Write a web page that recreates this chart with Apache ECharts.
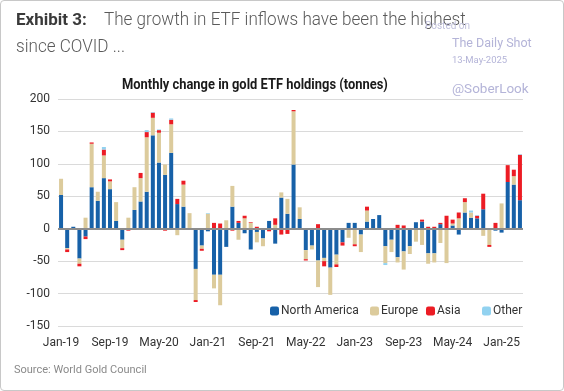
<!DOCTYPE html>
<html><head><meta charset="utf-8">
<script src="https://cdn.jsdelivr.net/npm/echarts@6/dist/echarts.min.js"></script>
<style>
html,body{margin:0;padding:0;background:#fff;}
#wrap{position:absolute;left:0;top:0;width:562px;height:389px;border:1px solid #c8c8c8;border-radius:4px;overflow:hidden;}
#c{width:564px;height:391px;position:absolute;left:-1px;top:-1px;}
</style></head>
<body><div id="wrap"><div id="c"></div></div>
<script>
const categories = [
 'Jan-19','Feb-19','Mar-19','Apr-19','May-19','Jun-19','Jul-19','Aug-19','Sep-19','Oct-19','Nov-19','Dec-19',
 'Jan-20','Feb-20','Mar-20','Apr-20','May-20','Jun-20','Jul-20','Aug-20','Sep-20','Oct-20','Nov-20','Dec-20',
 'Jan-21','Feb-21','Mar-21','Apr-21','May-21','Jun-21','Jul-21','Aug-21','Sep-21','Oct-21','Nov-21','Dec-21',
 'Jan-22','Feb-22','Mar-22','Apr-22','May-22','Jun-22','Jul-22','Aug-22','Sep-22','Oct-22','Nov-22','Dec-22',
 'Jan-23','Feb-23','Mar-23','Apr-23','May-23','Jun-23','Jul-23','Aug-23','Sep-23','Oct-23','Nov-23','Dec-23',
 'Jan-24','Feb-24','Mar-24','Apr-24','May-24','Jun-24','Jul-24','Aug-24','Sep-24','Oct-24','Nov-24','Dec-24',
 'Jan-25','Feb-25','Mar-25','Apr-25'];
const northAmerica = [
 52,-30,3,-46,-12,64,43,78,61,12,-17,0,
 29,42,57,144,102,83,117,38,34,-1,-62,-26,
 -4,-71,-71,-28,34,9,-7,-32,-5,-15,12,-23,
 48,23,99,15,-33,-26,-49,-45,-60,-40,-21,9,
 9,-9,11,15,21,-27,-17,-44,-35,-27,10,11,
 -38,-38,7,0,5,-9,25,17,16,30,0,-3,
 -6,72,68,44];
const europe = [
 25,-2,0,-8,17,67,14,35,12,29,-13,17,
 35,36,84,27,46,16,44,-10,34,24,-48,-5,
 23,-21,-47,13,32,-17,16,9,-16,-12,0,6,
 8,23,82,18,-14,-6,-41,-5,-42,-15,0,-14,
 -24,-27,17,0,0,-26,-19,-8,-28,-12,-20,-25,
 -16,-14,-22,-53,3,16,16,8,0,-11,-25,0,
 39,0,13,0];
const asia = [
 0,-4,-2,-4,-4,2,0,9,3,0,-3,-3,
 0,8,8,8,4,-3,7,8,6,0,-3,-3,
 0,9,8,0,-3,3,4,1,3,0,-4,10,
 -9,-8,2,0,-2,0,7,-8,0,-4,-5,0,
 -3,0,6,0,0,0,0,6,5,0,0,3,
 3,3,2,20,6,9,6,0,4,24,-3,9,
 0,26,10,70];
const other = [
 0,0,0,0,0,0,0,4,0,0,1,0,
 0,0,3,1,1,0,2,0,0,0,0,0,
 1,0,0,0,0,0,0,0,0,0,0,0,
 0,0,0,0,0,0,0,0,0,0,0,0,
 0,0,0,0,0,-3,0,0,0,0,0,0,
 0,0,0,0,0,0,0,3,1,0,0,0,
 0,0,0,1];
const seriesNames = ['North America','Europe','Asia','Other'];
const yTicks = {min:-150, max:200, step:50};

const FONT = "Roboto, sans-serif";
const chart = echarts.init(document.getElementById('c'), null, {renderer:'canvas'});
function bar(name, data, color){
  return {name, type:'bar', stack:'total', data, barWidth:4,
    itemStyle:{color}, emphasis:{disabled:true}};
}
const series = [
  bar(seriesNames[0], northAmerica, '#1761a8'),
  bar(seriesNames[1], europe, '#dccb9c'),
  bar(seriesNames[2], asia, '#ec1c24'),
  bar(seriesNames[3], other, '#92d2f0')
];
series[0].markLine = {silent:true, symbol:'none', label:{show:false},
  lineStyle:{color:'#8c8c8c', width:2, type:'solid'}, data:[{yAxis:0}], animation:false};
const legendLefts = [265, 365, 421, 477];
const legends = seriesNames.map((n,i)=>({left:legendLefts[i], top:300, itemWidth:9, itemHeight:9,
    textStyle:{fontSize:12, color:'#333', fontFamily:FONT, padding:[0,0,0,-3]}, data:[n]}));
chart.setOption({
  animation:false,
  grid:{left:58, right:41, top:99, bottom:65},
  graphic:[
    {type:'text', left:16, top:12, style:{text:'Exhibit 3:', font:"bold 17px "+FONT, fill:'#3a3a3a'}},
    {type:'text', x:104, y:11, scaleX:0.95, style:{text:'The growth in ETF inflows have been the highest', font:"300 18px "+FONT, fill:'#5a5a5a'}},
    {type:'text', x:16, y:38, scaleX:0.95, style:{text:'since COVID ...', font:"300 18px "+FONT, fill:'#5a5a5a'}},
    {type:'text', left:425, top:21, style:{text:'Posted on', font:"10px "+FONT, fill:'#c0c0dc'}},
    {type:'text', left:452, top:37, style:{text:'The Daily Shot', font:"12.5px "+FONT, fill:'#b4b4d8'}},
    {type:'text', left:452, top:56, style:{text:'13-May-2025', font:"9.5px "+FONT, fill:'#b4b4d8'}},
    {type:'text', left:452, top:83, style:{text:'@SoberLook', font:"13.5px "+FONT, fill:'#b4b4d8'}},
    {type:'text', x:122, y:78, scaleX:0.86, style:{text:'Monthly change in gold ETF holdings (tonnes)', font:"bold 15px "+FONT, fill:'#1a1a1a'}},
    {type:'text', left:14, top:365, style:{text:'Source: World Gold Council', font:"11px "+FONT, fill:'#8a8a8a'}}
  ],
  legend:legends,
  xAxis:{type:'category', data:categories, boundaryGap:true,
    axisLine:{show:false, onZero:false}, axisTick:{show:false},
    axisLabel:{interval:7, color:'#333', fontSize:12, fontFamily:FONT, margin:11},
    splitLine:{show:false}},
  yAxis:{type:'value', min:yTicks.min, max:yTicks.max, interval:yTicks.step,
    axisLine:{show:false}, axisTick:{show:false},
    axisLabel:{color:'#333', fontSize:12, fontFamily:FONT, margin:8},
    splitLine:{lineStyle:{color:'#dadada', width:1}}},
  series
});
</script></body></html>
